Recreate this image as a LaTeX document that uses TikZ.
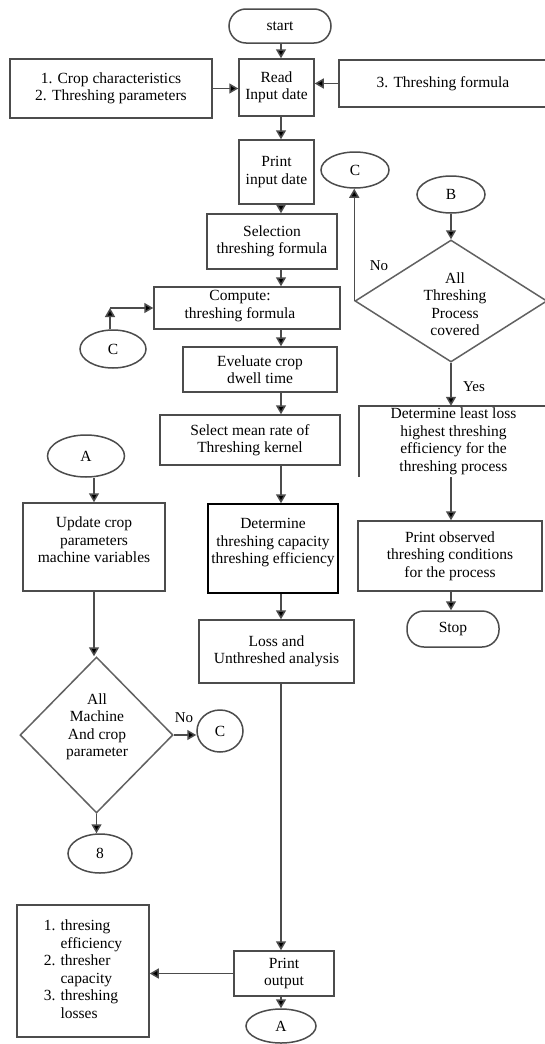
\documentclass[tikz,border=0pt]{standalone}
\usepackage{fontspec}
\setmainfont{Liberation Serif}
\usetikzlibrary{shapes.geometric,arrows.meta}
\begin{document}
\begin{tikzpicture}[x=1pt,y=-1pt,
  every node/.style={font=\fontsize{15.5}{17.5}\selectfont, align=center, inner sep=0pt},
  sz/.style 2 args={minimum width=#1pt, minimum height=#2pt},
  box/.style={draw=black!70, line width=1.5pt, rectangle},
  ell/.style={draw=black!70, line width=1.5pt, ellipse},
  dia/.style={draw=black!62, line width=1.5pt, diamond},
  ln/.style={draw=black!70, line width=1.5pt},
  arr/.style={draw=black!70, line width=1.5pt, -{Triangle[length=9pt,width=10pt,fill=black]}},
  lbl/.style={font=\fontsize{15}{17}\selectfont}
]
\useasboundingbox (0,0) rectangle (544,1044);
\fill[white] (0,0) rectangle (544,1044);

% main column
\node[box, sz={102}{34}, rounded corners=17pt] (start) at (280,26) {start};
\node[box, sz={202}{59}] (inp) at (111,88.5) {1. Crop characteristics\\2. Threshing parameters};
\node[box, sz={75}{57}] (read) at (276.5,87.5) {Read\\Input date};
\node[box, sz={208}{47}] (frm) at (443,83.5) {3. Threshing formula};
\node[box, sz={75}{64}] (pid) at (276.5,172) {Print\\input date};
\node[box, sz={130}{55}] (sel) at (272,241.5) {Selection\\threshing formula};
\node[box, sz={186}{42}] (comp) at (247,308) {};
\node (compt) at (240,306) {Compute:\\threshing formula};
\node[ell, sz={66}{38}] (cL) at (113,349) {C};
\node[box, sz={154}{45}] (eve) at (260,369.5) {Eveluate crop\\dwell time};
\node[box, sz={180}{50}] (smr) at (250,440) {Select mean rate of\\Threshing kernel};
\node[box, draw=black, sz={130}{89}] (det) at (273,548.5) {};
\node (dett) at (273,543) {Determine\\threshing capacity\\threshing efficiency};
\node[box, sz={155}{63}] (loss) at (276.5,651.5) {Loss and\\Unthreshed analysis};
\node[box, sz={100}{45}] (po) at (284,973.5) {Print\\output};
\node[ell, sz={70}{34}] (aB) at (281,1026) {A};
\node[box, sz={132}{132}] (outb) at (83,971) {\begin{tabular}{@{}r@{ }l@{}}1.&thresing\\&efficiency\\2.&thresher\\&capacity\\3.&threshing\\&losses\end{tabular}};

% left column
\node[ell, sz={77}{42}] (aT) at (86,456) {A};
\node[box, sz={142}{88}] (upd) at (94,547) {};
\node (updt) at (94,540) {Update crop\\parameters\\machine variables};
\node[dia, sz={153}{156}] (d2) at (96.5,735) {};
\node (d2t) at (97,727) {All\\Machine\\And crop\\parameter};
\node[ell, sz={46}{42}] (c2) at (220,731) {C};
\node[ell, sz={64}{39}] (eight) at (100,853.5) {8};

% right column
\node[ell, sz={68}{36}] (cR) at (355,170) {C};
\node[ell, sz={68}{37}] (bB) at (451,194.5) {B};
\node[dia, sz={192}{122}] (d1) at (451,301) {};
\node (d1t) at (455,304) {All\\Threshing\\Process\\covered};
\node[sz={189}{71}] (dll) at (453.5,441.5) {Determine least loss\\highest threshing\\efficiency for the\\threshing process};
\draw[ln] (dll.south west) -- (dll.north west) -- (dll.north east) -- (dll.south east);
\node[box, sz={184}{70}] (pobs) at (450,556) {Print observed\\threshing conditions\\for the process};
\node[box, sz={92}{36}, rounded corners=17pt] (stop) at (453,629) {Stop};

% labels
\node[lbl] (no1) at (379,266) {No};
\node[lbl] (yes1) at (474,387) {Yes};
\node[lbl] (no2) at (184,718) {No};

% connectors main column
\coordinate (col) at (281,0);
\draw[arr] (start.south -| col) -- (read.north -| col);
\draw[arr] (inp.east) -- (inp.east -| read.west);
\draw[arr] (frm.west) -- (frm.west -| read.east);
\draw[arr] (read.south -| col) -- (pid.north -| col);
\draw[arr] (pid.south -| col) -- (sel.north -| col);
\draw[arr] (sel.south -| col) -- (comp.north -| col);
\draw[arr] (comp.south -| col) -- (eve.north -| col);
\draw[arr] (eve.south -| col) -- (smr.north -| col);
\draw[arr] (smr.south -| col) -- (det.north -| col);
\draw[arr] (det.south -| col) -- (loss.north -| col);
\draw[arr] (loss.south -| col) -- (po.north -| col);
\draw[arr] (po.west) -- (po.west -| outb.east);
\draw[arr] (po.south -| aB.north) -- (aB.north);
\draw[arr] ([xshift=-3pt]cL.north) -- ([xshift=-3pt]cL.north |- comp.west) coordinate (k1);
\draw[arr] (k1) -- (comp.west);

% left column connectors
\draw[arr] (aT.south -| upd.north) -- (upd.north);
\draw[arr] (upd.south) -- (upd.south |- d2.north);
\draw[arr] (d2.east) -- (d2.east -| c2.west);
\draw[arr] (d2.south) -- (d2.south |- eight.north);

% right column connectors
\draw[arr] (bB.south) -- (d1.north);
\draw[arr] (d1.west) -- (d1.west |- cR.south);
\draw[arr] (d1.south) -- (d1.south |- dll.north);
\draw[arr] (d1.south |- dll.south) -- (d1.south |- pobs.north);
\draw[arr] (pobs.south -| d1.south) -- (stop.north -| d1.south);
\end{tikzpicture}
\end{document}
